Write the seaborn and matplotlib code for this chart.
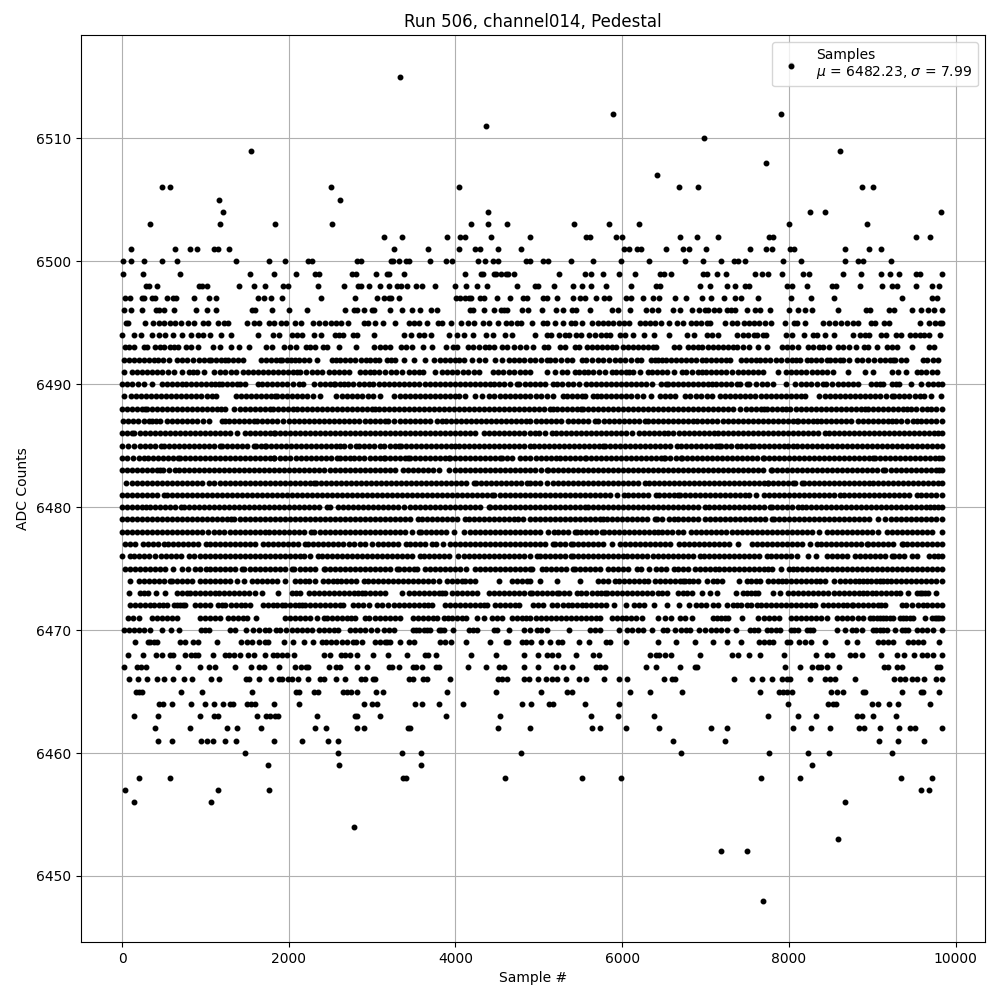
import matplotlib
matplotlib.use("Agg")
import pandas as pd
import seaborn as sns
from matplotlib import pyplot as plt

# sample numbers, one list per ADC level
s6516 = [8028]
s6515 = [3332]
s6512 = [5892, 7908]
s6511 = [4364]
s6510 = [6984]
s6509 = [1544, 8616]
s6508 = [7728]
s6507 = [6420]
s6506 = [476, 572, 2504, 4040, 6684, 6912, 8880, 9012]
s6505 = [1160, 2612]
s6504 = [1208, 4388, 8256, 8436, 9828]
s6503 = [332, 1172, 1832, 2516, 4184, 4388, 4616, 5424, 5844, 6204, 8004, 8940]
s6502 = [3140, 3356, 3896, 4052, 4112, 4424, 4892, 5568, 5616, 5928, 6000, 6696, 6900, 7152, 7764, 7812, 9528, 9696]
s6501 = [104, 632, 812, 896, 1100, 1148, 1280, 3260, 3668, 4040, 4232, 4292, 4508, 4784, 6024, 6084, 6180, 6228, 6528, 6732, 6804, 7008, 7536, 7728, 7800, 8016, 8064, 8676, 8964, 9108]
s6500 = [8, 104, 260, 476, 656, 1364, 1760, 1952, 2228, 2276, 2816, 2864, 3224, 3248, 3320, 3404, 3440, 3692, 3884, 3956, 4268, 4352, 4448, 4508, 4844, 4892, 5052, 5112, 5388, 5652, 5988, 6324, 6756, 6972, 7188, 7344, 7392, 7476, 7932, 8148, 8676, 8832, 8892, 9228]
s6499 = [8, 248, 692, 1532, 1820, 2084, 2312, 2360, 2756, 2804, 3044, 3176, 3200, 3380, 4112, 4304, 4328, 4460, 4484, 4544, 4604, 4628, 4700, 5244, 5556, 5628, 5772, 5964, 6156, 6456, 6504, 6588, 6972, 7020, 7140, 7248, 7596, 7680, 7752, 7920, 8172, 8244, 8652, 8868, 9108, 9216, 9324, 9528, 9576, 9840]
s6498 = [284, 320, 416, 920, 956, 1016, 1400, 1580, 1712, 1928, 1988, 2348, 2660, 2828, 2864, 2960, 3092, 3200, 3296, 3344, 3416, 3524, 3596, 3752, 3992, 4124, 4256, 4376, 4736, 4952, 4992, 5184, 5412, 5520, 5628, 5808, 6108, 6408, 6456, 6936, 7056, 7260, 7356, 7476, 7524, 7980, 8040, 8220, 8520, 8568, 8856, 9120, 9240, 9300, 9528, 9720, 9804]
s6497 = [32, 92, 236, 260, 356, 392, 536, 608, 644, 860, 1040, 1124, 1628, 1700, 1784, 1916, 2384, 2792, 3056, 3140, 3200, 3224, 3320, 4004, 4052, 4112, 4160, 4184, 4292, 4340, 4496, 4652, 4808, 4856, 5052, 5100, 5220, 5412, 5496, 5556, 5688, 5784, 5844, 6048, 6108, 6252, 6372, 6444, 6636, 6768, 6960, 7068, 7224, 7356, 7428, 7632, 8028, 8268, 8544, 9360, 9720, 9780]
s6496 = [20, 104, 236, 404, 440, 500, 620, 884, 1016, 1124, 1556, 1592, 1796, 2000, 2216, 2672, 2780, 2816, 2900, 2996, 3020, 3212, 3360, 3476, 3572, 3704, 3776, 4172, 4208, 4340, 4460, 4544, 4580, 4616, 4796, 4868, 5036, 5208, 5292, 5400, 5448, 5616, 5880, 5952, 6096, 6288, 6360, 6432, 6612, 6696, 6840, 6924, 6996, 7032, 7104, 7164, 7260, 7308, 7356, 7500, 7596, 7656, 7776, 8004, 8112, 8196, 8280, 8592, 8928, 8976, 9204, 9264, 9480, 9588, 9672, 9744, 9840]
s6495 = [44, 68, 272, 368, 440, 500, 572, 632, 704, 788, 860, 968, 1028, 1148, 1220, 1268, 1496, 1580, 1640, 1760, 1820, 1904, 1964, 2072, 2144, 2288, 2360, 2432, 2504, 2564, 2624, 2708, 2900, 2948, 3032, 3128, 3272, 3440, 3500, 3560, 3656, 3788, 3836, 3944, 4064, 4148, 4220, 4328, 4400, 4508, 4604, 4664, 4736, 4784, 4920, 5052, 5100, 5196, 5292, 5388, 5436, 5520, 5640, 5712, 5772, 5832, 5892, 5964, 6024, 6084, 6216, 6276, 6336, 6396, 6468, 6564, 6660, 6732, 6828, 6888, 6948, 7020, 7056, 7236, 7320, 7380, 7464, 7524, 7584, 7644, 7716, 7788, 7956, 8064, 8100, 8196, 8412, 8484, 8556, 8628, 8700, 8772, 8832, 8988, 9036, 9144, 9204, 9576, 9684, 9748, 9816, 9840]
s6494 = [0, 140, 224, 356, 440, 512, 608, 716, 824, 908, 968, 1052, 1184, 1304, 1628, 1808, 1880, 2036, 2096, 2156, 2300, 2384, 2552, 2600, 2648, 2768, 2816, 3020, 3380, 3464, 3560, 3620, 3704, 3920, 4016, 4100, 4208, 4364, 4448, 4592, 4676, 4956, 5100, 5148, 5244, 5316, 5364, 5448, 5508, 5604, 5676, 5748, 5800, 5856, 5976, 6036, 6132, 6256, 6380, 6564, 6780, 6864, 7020, 7080, 7152, 7380, 7452, 7512, 7584, 7620, 7692, 7728, 7968, 8040, 8184, 8292, 8340, 8436, 8544, 8772, 8856, 8916, 8964, 9108, 9168, 9288, 9348, 9456, 9516, 9576, 9624, 9684, 9816]
s6493 = [32, 80, 140, 260, 296, 392, 450, 500, 572, 620, 668, 764, 830, 908, 1088, 1172, 1304, 1400, 1520, 1724, 1796, 1940, 2012, 2084, 2204, 2260, 2312, 2408, 2456, 2600, 2804, 3020, 3090, 3150, 3212, 3344, 3404, 3476, 3608, 3716, 3884, 3968, 4016, 4148, 4210, 4280, 4350, 4400, 4460, 4556, 4620, 4700, 4770, 4844, 4932, 5064, 5112, 5256, 5316, 5436, 5484, 5580, 5640, 5700, 5760, 5820, 5880, 5928, 6012, 6072, 6132, 6192, 6252, 6312, 6372, 6408, 6624, 6684, 6792, 6852, 6912, 6960, 7032, 7092, 7152, 7212, 7272, 7332, 7380, 7452, 7524, 7632, 7740, 7920, 7980, 8040, 8112, 8232, 8292, 8364, 8412, 8484, 8592, 8652, 8724, 8808, 8904, 8952, 9060, 9180, 9240, 9300, 9480, 9684, 9744]
s6492 = [20, 80, 140, 200, 260, 320, 380, 428, 490, 560, 660, 720, 780, 850, 920, 980, 1040, 1072, 1130, 1190, 1240, 1268, 1330, 1390, 1452, 1668, 1730, 1790, 1850, 1900, 1920, 1980, 2030, 2080, 2120, 2180, 2240, 2340, 2520, 2570, 2620, 2680, 2740, 2800, 2870, 2932, 2980, 3030, 3080, 3180, 3230, 3280, 3380, 3508, 3640, 3748, 3810, 3870, 3930, 3990, 4040, 4100, 4200, 4280, 4360, 4480, 4560, 4640, 4700, 4760, 4820, 4900, 4950, 5020, 5092, 5130, 5190, 5260, 5340, 5400, 5512, 5570, 5632, 5712, 5770, 5840, 5910, 5972, 6032, 6100, 6172, 6228, 6340, 6390, 6432, 6472, 6530, 6590, 6644, 6700, 6760, 6830, 6890, 6952, 7000, 7060, 7120, 7180, 7240, 7292, 7420, 7480, 7540, 7600, 7652, 7710, 7770, 7840, 7910, 7972, 8032, 8080, 8132, 8212, 8270, 8330, 8390, 8452, 8492, 8550, 8612, 8652, 8724, 8820, 8880, 8950, 9020, 9092, 9152, 9210, 9252, 9272, 9340, 9404, 9604, 9660, 9730, 9792]
s6491 = [28, 120, 180, 240, 300, 360, 420, 480, 548, 620, 716, 800, 850, 900, 980, 1108, 1170, 1240, 1310, 1372, 1452, 1510, 1570, 1630, 1690, 1750, 1810, 1870, 1930, 1990, 2050, 2100, 2140, 2210, 2280, 2340, 2400, 2480, 2540, 2600, 2660, 2720, 2860, 2920, 2980, 3020, 3080, 3150, 3228, 3292, 3360, 3440, 3500, 3560, 3612, 3752, 3840, 3900, 3960, 4020, 4090, 4150, 4220, 4280, 4452, 4510, 4570, 4640, 4700, 4770, 4840, 4900, 5092, 5192, 5272, 5340, 5432, 5480, 5540, 5592, 5652, 5720, 5792, 5872, 5930, 5990, 6040, 6084, 6132, 6212, 6312, 6360, 6420, 6480, 6540, 6620, 6712, 6770, 6840, 6912, 6952, 7010, 7070, 7130, 7190, 7250, 7320, 7390, 7452, 7512, 7570, 7630, 7692, 7864, 7964, 8020, 8080, 8150, 8210, 8280, 8340, 8400, 8460, 8524, 8712, 8912, 9012, 9232, 9312, 9400, 9532, 9590, 9650, 9720, 9780]
s6490 = [0, 60, 120, 190, 260, 356, 480, 540, 600, 660, 720, 772, 830, 890, 950, 1010, 1070, 1120, 1160, 1200, 1260, 1320, 1380, 1420, 1472, 1628, 1680, 1740, 1800, 1860, 1920, 1980, 2050, 2120, 2168, 2308, 2370, 2430, 2490, 2540, 2560, 2610, 2660, 2708, 2770, 2840, 2900, 2960, 3012, 3080, 3140, 3200, 3260, 3320, 3380, 3440, 3500, 3560, 3640, 3700, 3760, 3820, 3880, 3940, 4000, 4060, 4120, 4180, 4240, 4300, 4360, 4420, 4460, 4520, 4580, 4650, 4740, 4760, 4830, 4900, 4950, 5010, 5070, 5164, 5220, 5280, 5350, 5412, 5484, 5564, 5620, 5680, 5740, 5800, 5860, 5920, 5980, 6040, 6100, 6160, 6220, 6290, 6352, 6460, 6524, 6552, 6610, 6670, 6730, 6790, 6850, 6910, 6970, 7032, 7072, 7130, 7190, 7250, 7310, 7372, 7412, 7492, 7524, 7600, 7672, 7740, 7812, 7960, 8068, 8140, 8200, 8270, 8340, 8404, 8444, 8512, 8592, 8650, 8710, 8764, 8832, 8980, 9040, 9092, 9132, 9232, 9280, 9324, 9464, 9580, 9672, 9730, 9790, 9840]
s6489 = [28, 108, 170, 230, 290, 350, 410, 470, 530, 590, 650, 710, 770, 830, 890, 950, 1020, 1080, 1132, 1372, 1430, 1490, 1550, 1610, 1670, 1730, 1790, 1840, 1860, 1920, 1980, 2040, 2100, 2160, 2220, 2290, 2380, 2572, 2640, 2700, 2760, 2820, 2880, 2950, 3012, 3092, 3268, 3330, 3390, 3450, 3510, 3570, 3630, 3690, 3750, 3810, 3870, 3930, 3990, 4040, 4120, 4240, 4320, 4400, 4468, 4530, 4590, 4650, 4710, 4770, 4840, 4900, 4960, 5030, 5100, 5172, 5284, 5340, 5400, 5460, 5512, 5552, 5652, 5692, 5750, 5810, 5870, 5930, 5990, 6050, 6110, 6180, 6252, 6340, 6452, 6510, 6570, 6632, 6752, 6810, 6880, 6950, 7012, 7072, 7172, 7230, 7290, 7350, 7410, 7470, 7530, 7592, 7660, 7720, 7780, 7844, 7900, 7960, 8020, 8080, 8140, 8192, 8360, 8432, 8490, 8550, 8610, 8670, 8730, 8790, 8852, 8912, 8970, 9030, 9090, 9160, 9232, 9260, 9320, 9380, 9440, 9510, 9572, 9620, 9704, 9820]
s6488 = [0, 60, 120, 180, 240, 280, 300, 360, 420, 480, 540, 600, 660, 720, 780, 840, 900, 960, 1020, 1080, 1140, 1190, 1240, 1348, 1410, 1470, 1530, 1590, 1650, 1710, 1780, 1812, 1870, 1930, 1990, 2050, 2100, 2160, 2220, 2280, 2340, 2400, 2460, 2520, 2580, 2640, 2700, 2760, 2820, 2880, 2940, 3000, 3040, 3080, 3140, 3200, 3260, 3320, 3380, 3440, 3500, 3560, 3620, 3680, 3740, 3800, 3860, 3920, 3980, 4040, 4100, 4160, 4220, 4280, 4340, 4400, 4460, 4520, 4580, 4640, 4700, 4760, 4820, 4880, 4940, 5000, 5060, 5132, 5164, 5220, 5280, 5340, 5400, 5460, 5504, 5524, 5590, 5650, 5710, 5770, 5830, 5890, 5950, 6010, 6070, 6130, 6190, 6250, 6310, 6370, 6430, 6490, 6550, 6610, 6670, 6730, 6790, 6850, 6910, 6970, 7030, 7090, 7150, 7210, 7270, 7332, 7412, 7480, 7540, 7600, 7660, 7700, 7732, 7800, 7860, 7920, 7970, 8012, 8080, 8140, 8200, 8260, 8320, 8380, 8440, 8500, 8560, 8620, 8680, 8740, 8800, 8860, 8910, 8952, 9012, 9070, 9130, 9190, 9250, 9310, 9372, 9412, 9470, 9530, 9592, 9652, 9710, 9770, 9840]
s6487 = [12, 70, 130, 190, 260, 320, 360, 410, 452, 540, 600, 660, 720, 780, 840, 900, 972, 1040, 1200, 1240, 1280, 1340, 1400, 1460, 1520, 1580, 1620, 1680, 1740, 1800, 1860, 1930, 2000, 2060, 2120, 2180, 2240, 2300, 2360, 2420, 2480, 2540, 2600, 2660, 2720, 2780, 2840, 2912, 2970, 3030, 3090, 3150, 3192, 3268, 3330, 3390, 3450, 3510, 3570, 3630, 3690, 3780, 3840, 3892, 3950, 4010, 4070, 4130, 4190, 4250, 4310, 4370, 4430, 4490, 4550, 4610, 4670, 4730, 4790, 4850, 4900, 4960, 5020, 5080, 5140, 5200, 5260, 5352, 5410, 5470, 5530, 5590, 5672, 5712, 5780, 5840, 5900, 5960, 6020, 6080, 6140, 6200, 6272, 6312, 6370, 6430, 6490, 6550, 6610, 6670, 6730, 6790, 6850, 6892, 6952, 7020, 7080, 7132, 7212, 7270, 7330, 7390, 7450, 7510, 7570, 7630, 7690, 7750, 7810, 7870, 7930, 7990, 8050, 8092, 8112, 8170, 8230, 8290, 8332, 8380, 8440, 8500, 8560, 8620, 8680, 8740, 8832, 8892, 8950, 9010, 9070, 9130, 9192, 9232, 9290, 9350, 9420, 9492, 9532, 9590, 9650, 9710, 9770, 9840]
s6486 = [0, 60, 120, 148, 210, 270, 330, 390, 450, 510, 570, 630, 690, 750, 810, 870, 930, 990, 1050, 1110, 1170, 1230, 1290, 1380, 1480, 1540, 1600, 1660, 1720, 1780, 1820, 1840, 1900, 1960, 2020, 2080, 2140, 2200, 2260, 2320, 2380, 2440, 2500, 2560, 2620, 2680, 2740, 2800, 2860, 2920, 2980, 3040, 3100, 3160, 3220, 3280, 3340, 3400, 3460, 3520, 3580, 3640, 3700, 3760, 3820, 3880, 3940, 4000, 4060, 4120, 4180, 4240, 4340, 4400, 4460, 4520, 4580, 4640, 4700, 4760, 4820, 4900, 4952, 5000, 5072, 5152, 5204, 5260, 5320, 5380, 5440, 5500, 5560, 5620, 5680, 5740, 5800, 5860, 5920, 5980, 6040, 6112, 6204, 6260, 6320, 6380, 6440, 6500, 6552, 6612, 6680, 6740, 6804, 6860, 6920, 6980, 7040, 7100, 7150, 7204, 7272, 7330, 7390, 7450, 7510, 7570, 7630, 7690, 7750, 7810, 7870, 7930, 7990, 8050, 8110, 8170, 8230, 8290, 8350, 8432, 8480, 8540, 8600, 8660, 8720, 8780, 8840, 8900, 8960, 9020, 9080, 9140, 9200, 9260, 9320, 9380, 9440, 9500, 9560, 9620, 9680, 9740, 9790, 9840]
s6485 = [0, 70, 148, 220, 280, 340, 400, 468, 500, 560, 620, 680, 740, 800, 860, 920, 980, 1040, 1100, 1172, 1204, 1260, 1320, 1380, 1440, 1500, 1580, 1612, 1670, 1720, 1732, 1790, 1850, 1910, 1970, 2030, 2090, 2150, 2210, 2270, 2330, 2390, 2450, 2510, 2570, 2620, 2668, 2740, 2812, 2840, 2900, 2960, 3020, 3100, 3148, 3210, 3270, 3320, 3352, 3410, 3470, 3530, 3590, 3650, 3710, 3770, 3830, 3890, 3950, 4000, 4040, 4100, 4160, 4220, 4280, 4340, 4400, 4460, 4520, 4580, 4640, 4700, 4760, 4820, 4900, 4940, 5000, 5060, 5120, 5180, 5240, 5300, 5360, 5420, 5480, 5540, 5600, 5660, 5720, 5772, 5792, 5850, 5910, 5970, 6030, 6090, 6150, 6210, 6270, 6330, 6390, 6450, 6510, 6570, 6652, 6710, 6770, 6830, 6890, 6950, 7010, 7070, 7120, 7164, 7184, 7250, 7310, 7380, 7420, 7480, 7540, 7580, 7640, 7700, 7760, 7820, 7880, 7940, 7992, 8044, 8100, 8160, 8220, 8280, 8340, 8400, 8460, 8520, 8580, 8640, 8700, 8760, 8820, 8880, 8940, 9000, 9060, 9120, 9180, 9240, 9300, 9360, 9420, 9480, 9540, 9600, 9660, 9720, 9780, 9840]
s6484 = [0, 60, 130, 200, 260, 308, 370, 430, 490, 550, 610, 672, 700, 760, 820, 880, 940, 1000, 1060, 1120, 1180, 1240, 1300, 1360, 1420, 1480, 1540, 1600, 1660, 1720, 1780, 1820, 1828, 1890, 1950, 2010, 2092, 2152, 2210, 2270, 2330, 2390, 2450, 2510, 2580, 2612, 2670, 2730, 2788, 2848, 2908, 2970, 3030, 3090, 3148, 3160, 3220, 3280, 3340, 3400, 3432, 3452, 3510, 3570, 3630, 3690, 3750, 3810, 3870, 3920, 3940, 4000, 4060, 4120, 4180, 4240, 4300, 4360, 4420, 4480, 4532, 4560, 4620, 4680, 4780, 4840, 4900, 4960, 5020, 5080, 5140, 5204, 5252, 5310, 5370, 5430, 5490, 5552, 5564, 5620, 5680, 5740, 5800, 5860, 5920, 5980, 6040, 6100, 6160, 6220, 6280, 6340, 6400, 6460, 6504, 6512, 6570, 6640, 6700, 6716, 6780, 6840, 6900, 6960, 7020, 7080, 7140, 7200, 7260, 7320, 7380, 7440, 7500, 7560, 7620, 7692, 7700, 7760, 7820, 7880, 7940, 8000, 8060, 8120, 8180, 8240, 8300, 8360, 8420, 8480, 8540, 8600, 8660, 8720, 8780, 8840, 8900, 8960, 9004, 9032, 9090, 9150, 9210, 9270, 9330, 9390, 9450, 9510, 9570, 9630, 9690, 9750, 9800, 9840]
s6483 = [0, 60, 120, 180, 240, 300, 360, 420, 460, 492, 560, 640, 680, 740, 800, 860, 920, 980, 1040, 1100, 1160, 1220, 1280, 1340, 1400, 1460, 1520, 1580, 1640, 1700, 1760, 1820, 1880, 1940, 2000, 2060, 2120, 2180, 2240, 2300, 2360, 2420, 2500, 2560, 2620, 2680, 2740, 2800, 2860, 2920, 2980, 3040, 3100, 3160, 3220, 3280, 3372, 3430, 3490, 3550, 3610, 3670, 3730, 3800, 3928, 3990, 4050, 4110, 4170, 4230, 4290, 4350, 4410, 4470, 4530, 4590, 4650, 4710, 4770, 4830, 4900, 4950, 5020, 5092, 5112, 5170, 5230, 5290, 5350, 5410, 5470, 5530, 5590, 5650, 5710, 5770, 5830, 5890, 5950, 6010, 6070, 6130, 6190, 6250, 6310, 6370, 6430, 6490, 6550, 6610, 6670, 6730, 6790, 6850, 6910, 6970, 7030, 7090, 7150, 7210, 7270, 7330, 7390, 7450, 7510, 7570, 7630, 7690, 7780, 7800, 7860, 7920, 7980, 8040, 8100, 8160, 8220, 8280, 8340, 8400, 8460, 8520, 8580, 8640, 8700, 8760, 8820, 8880, 8940, 9000, 9060, 9124, 9156, 9220, 9280, 9340, 9400, 9460, 9520, 9580, 9640, 9700, 9760, 9800, 9840]
s6482 = [52, 120, 180, 240, 300, 360, 420, 480, 540, 600, 660, 720, 780, 840, 900, 960, 1040, 1108, 1170, 1230, 1290, 1350, 1410, 1470, 1530, 1590, 1650, 1710, 1770, 1830, 1890, 1950, 2010, 2070, 2130, 2190, 2250, 2300, 2328, 2390, 2450, 2510, 2570, 2630, 2690, 2750, 2810, 2870, 2930, 2990, 3050, 3110, 3170, 3230, 3290, 3350, 3410, 3470, 3530, 3590, 3650, 3710, 3770, 3830, 3890, 3950, 4010, 4070, 4130, 4220, 4252, 4310, 4370, 4430, 4490, 4550, 4610, 4670, 4730, 4790, 4860, 4892, 4950, 5012, 5092, 5172, 5230, 5290, 5350, 5410, 5470, 5530, 5590, 5650, 5710, 5770, 5830, 5890, 5950, 6010, 6070, 6130, 6190, 6272, 6324, 6380, 6440, 6500, 6560, 6620, 6680, 6740, 6800, 6860, 6920, 6980, 7040, 7100, 7160, 7220, 7280, 7340, 7400, 7460, 7520, 7580, 7640, 7700, 7744, 7752, 7810, 7870, 7930, 7990, 8052, 8072, 8152, 8180, 8240, 8300, 8360, 8420, 8480, 8540, 8600, 8660, 8720, 8780, 8840, 8900, 8960, 9012, 9072, 9130, 9190, 9250, 9310, 9370, 9430, 9490, 9550, 9610, 9670, 9730, 9790, 9840]
s6481 = [0, 60, 120, 180, 240, 300, 360, 420, 508, 540, 600, 660, 720, 780, 840, 900, 960, 1020, 1080, 1140, 1200, 1260, 1320, 1380, 1440, 1500, 1560, 1620, 1680, 1740, 1800, 1860, 1920, 1980, 2040, 2100, 2160, 2220, 2280, 2340, 2400, 2460, 2520, 2580, 2640, 2700, 2760, 2820, 2880, 2940, 3000, 3060, 3120, 3180, 3240, 3300, 3360, 3420, 3480, 3540, 3600, 3660, 3720, 3780, 3840, 3900, 3960, 4020, 4080, 4140, 4200, 4260, 4320, 4380, 4440, 4468, 4530, 4590, 4650, 4710, 4770, 4830, 4900, 4950, 5010, 5070, 5130, 5190, 5250, 5310, 5370, 5430, 5490, 5550, 5610, 5670, 5730, 5790, 5850, 5932, 6016, 6072, 6130, 6190, 6250, 6310, 6404, 6444, 6500, 6560, 6620, 6672, 6692, 6750, 6810, 6870, 6930, 6990, 7050, 7110, 7170, 7230, 7290, 7350, 7410, 7470, 7520, 7600, 7700, 7760, 7820, 7880, 7940, 8000, 8060, 8120, 8180, 8240, 8300, 8360, 8420, 8480, 8540, 8612, 8660, 8720, 8780, 8840, 8900, 8960, 9020, 9080, 9140, 9200, 9260, 9320, 9380, 9440, 9532, 9580, 9640, 9700, 9760, 9840]
s6480 = [0, 60, 120, 180, 240, 292, 332, 390, 450, 510, 570, 630, 712, 740, 800, 860, 920, 980, 1040, 1100, 1160, 1220, 1280, 1340, 1400, 1460, 1520, 1580, 1640, 1700, 1760, 1820, 1880, 1940, 2000, 2060, 2120, 2180, 2240, 2300, 2360, 2460, 2500, 2588, 2650, 2710, 2770, 2830, 2890, 2950, 3010, 3070, 3130, 3190, 3250, 3308, 3388, 3450, 3510, 3570, 3630, 3690, 3750, 3810, 3870, 3930, 3990, 4050, 4110, 4170, 4230, 4290, 4400, 4420, 4480, 4540, 4600, 4660, 4720, 4780, 4840, 4900, 4950, 5010, 5070, 5130, 5190, 5250, 5310, 5370, 5430, 5490, 5552, 5592, 5650, 5710, 5770, 5830, 5890, 5950, 6010, 6070, 6130, 6190, 6250, 6310, 6370, 6430, 6490, 6550, 6610, 6670, 6730, 6790, 6850, 6910, 6992, 7040, 7100, 7160, 7220, 7280, 7340, 7400, 7460, 7520, 7580, 7640, 7700, 7772, 7800, 7860, 7920, 7980, 8040, 8104, 8152, 8210, 8270, 8330, 8390, 8450, 8510, 8570, 8630, 8690, 8750, 8810, 8870, 8930, 8990, 9050, 9110, 9170, 9230, 9290, 9350, 9410, 9470, 9530, 9590, 9640, 9692, 9740, 9790, 9840]
s6479 = [0, 60, 120, 180, 240, 300, 360, 420, 480, 540, 600, 660, 720, 780, 840, 900, 960, 1020, 1080, 1140, 1200, 1260, 1308, 1348, 1410, 1470, 1530, 1590, 1650, 1710, 1770, 1830, 1890, 1950, 2010, 2070, 2130, 2190, 2250, 2310, 2370, 2430, 2490, 2550, 2610, 2670, 2730, 2790, 2850, 2910, 2970, 3030, 3090, 3150, 3210, 3270, 3330, 3390, 3460, 3548, 3600, 3660, 3720, 3780, 3840, 3900, 3960, 4020, 4120, 4160, 4220, 4280, 4340, 4400, 4460, 4520, 4580, 4640, 4700, 4748, 4810, 4900, 4950, 5010, 5070, 5130, 5190, 5250, 5310, 5370, 5430, 5490, 5550, 5610, 5670, 5732, 5764, 5820, 5880, 5940, 6000, 6060, 6120, 6180, 6240, 6300, 6392, 6420, 6480, 6560, 6620, 6672, 6730, 6790, 6850, 6910, 6992, 7052, 7110, 7170, 7232, 7292, 7350, 7410, 7470, 7530, 7590, 7650, 7710, 7792, 7824, 7880, 7940, 8000, 8060, 8120, 8180, 8240, 8300, 8360, 8420, 8480, 8540, 8600, 8660, 8720, 8780, 8840, 8900, 8960, 9072, 9156, 9224, 9280, 9340, 9400, 9460, 9520, 9580, 9640, 9700, 9760, 9840]
s6478 = [0, 60, 120, 180, 240, 300, 360, 420, 480, 540, 600, 660, 720, 780, 840, 900, 960, 1028, 1100, 1160, 1220, 1292, 1350, 1410, 1470, 1530, 1590, 1650, 1710, 1768, 1820, 1880, 1940, 2000, 2060, 2120, 2180, 2272, 2308, 2370, 2430, 2490, 2550, 2610, 2670, 2730, 2790, 2850, 2910, 2970, 3030, 3090, 3150, 3210, 3270, 3330, 3390, 3480, 3560, 3588, 3650, 3710, 3770, 3830, 3890, 3980, 4108, 4170, 4230, 4290, 4350, 4410, 4470, 4530, 4590, 4650, 4710, 4770, 4830, 4900, 4950, 5010, 5112, 5180, 5232, 5290, 5350, 5432, 5452, 5510, 5570, 5630, 5690, 5752, 5780, 5840, 5900, 5960, 6020, 6080, 6140, 6200, 6260, 6320, 6380, 6432, 6480, 6540, 6600, 6672, 6732, 6824, 6880, 6940, 7000, 7060, 7120, 7180, 7240, 7312, 7380, 7440, 7500, 7560, 7620, 7680, 7740, 7800, 7860, 7920, 7980, 8040, 8100, 8160, 8220, 8280, 8364, 8460, 8520, 8580, 8640, 8700, 8760, 8820, 8880, 8940, 9000, 9072, 9180, 9240, 9300, 9360, 9420, 9480, 9540, 9600, 9660, 9720, 9832]
s6477 = [40, 100, 160, 252, 308, 370, 430, 500, 548, 612, 670, 730, 790, 850, 910, 1012, 1052, 1110, 1170, 1230, 1290, 1350, 1410, 1470, 1530, 1590, 1692, 1748, 1810, 1870, 1930, 1990, 2050, 2110, 2200, 2228, 2290, 2350, 2410, 2470, 2530, 2590, 2650, 2720, 2784, 2852, 2920, 3000, 3072, 3130, 3190, 3250, 3310, 3412, 3460, 3520, 3580, 3640, 3720, 3772, 3848, 3932, 3990, 4050, 4110, 4170, 4230, 4290, 4350, 4410, 4470, 4530, 4590, 4650, 4710, 4770, 4830, 4900, 4950, 5010, 5070, 5164, 5192, 5250, 5310, 5380, 5412, 5470, 5530, 5590, 5650, 5710, 5770, 5872, 5972, 6030, 6090, 6150, 6210, 6270, 6330, 6390, 6450, 6510, 6572, 6684, 6740, 6800, 6860, 6920, 6980, 7040, 7100, 7160, 7220, 7280, 7392, 7560, 7620, 7680, 7740, 7800, 7860, 7920, 7980, 8040, 8100, 8160, 8252, 8332, 8390, 8450, 8510, 8570, 8630, 8690, 8750, 8810, 8870, 8932, 8952, 9010, 9070, 9130, 9190, 9250, 9352, 9364, 9420, 9480, 9540, 9600, 9660, 9720, 9780, 9840]
s6476 = [0, 100, 140, 200, 260, 320, 392, 468, 530, 590, 650, 710, 800, 868, 930, 990, 1050, 1110, 1170, 1230, 1290, 1350, 1410, 1470, 1530, 1590, 1650, 1710, 1770, 1830, 1890, 1950, 2010, 2070, 2132, 2180, 2250, 2348, 2400, 2460, 2520, 2580, 2640, 2700, 2760, 2820, 2880, 2940, 3000, 3060, 3120, 3180, 3240, 3300, 3360, 3420, 3480, 3580, 3620, 3680, 3740, 3800, 3860, 3920, 4032, 4100, 4160, 4220, 4280, 4340, 4400, 4460, 4520, 4580, 4640, 4700, 4760, 4820, 4900, 4972, 5012, 5070, 5132, 5192, 5250, 5310, 5380, 5412, 5470, 5530, 5590, 5650, 5710, 5770, 5830, 5890, 5952, 6004, 6060, 6120, 6180, 6240, 6300, 6372, 6432, 6490, 6550, 6610, 6670, 6730, 6790, 6850, 6932, 6980, 7040, 7100, 7160, 7220, 7280, 7340, 7400, 7460, 7520, 7580, 7640, 7740, 7784, 7840, 7900, 7960, 8020, 8092, 8232, 8324, 8460, 8520, 8580, 8640, 8700, 8792, 8852, 8910, 8970, 9030, 9090, 9150, 9232, 9260, 9320, 9380, 9472, 9532, 9684, 9740, 9790, 9840]
s6475 = [40, 100, 160, 220, 280, 340, 400, 460, 520, 612, 720, 792, 880, 940, 1012, 1060, 1120, 1180, 1240, 1300, 1360, 1440, 1468, 1530, 1590, 1650, 1710, 1770, 1830, 1890, 1950, 2040, 2068, 2130, 2190, 2250, 2310, 2420, 2440, 2500, 2560, 2620, 2680, 2740, 2800, 2860, 2920, 2980, 3040, 3100, 3160, 3220, 3300, 3320, 3380, 3440, 3500, 3540, 3640, 3692, 3750, 3810, 3870, 3930, 3990, 4050, 4132, 4240, 4300, 4360, 4420, 4480, 4540, 4600, 4660, 4720, 4780, 4840, 4900, 4920, 5032, 5090, 5150, 5210, 5270, 5330, 5412, 5432, 5490, 5550, 5610, 5672, 5732, 5832, 5892, 5950, 6010, 6070, 6172, 6224, 6324, 6404, 6460, 6520, 6620, 6672, 6730, 6790, 6872, 6932, 6990, 7050, 7112, 7164, 7220, 7280, 7340, 7400, 7460, 7520, 7580, 7640, 7700, 7752, 7800, 7900, 8004, 8044, 8100, 8160, 8220, 8280, 8340, 8400, 8460, 8520, 8580, 8640, 8700, 8760, 8820, 8880, 8940, 9000, 9060, 9120, 9180, 9240, 9300, 9360, 9420, 9480, 9540, 9600, 9660, 9720, 9780, 9840]
s6474 = [92, 200, 260, 320, 380, 440, 500, 580, 604, 660, 720, 780, 840, 940, 1000, 1060, 1120, 1180, 1240, 1300, 1380, 1460, 1560, 1620, 1680, 1740, 1800, 1860, 1960, 2080, 2140, 2190, 2248, 2320, 2412, 2470, 2530, 2580, 2628, 2690, 2750, 2810, 2900, 2948, 3010, 3070, 3130, 3190, 3250, 3310, 3370, 3430, 3490, 3550, 3610, 3670, 3730, 3800, 3900, 3960, 4020, 4080, 4120, 4170, 4240, 4520, 4680, 4740, 4800, 4860, 4900, 5012, 5220, 5492, 5712, 5770, 5830, 5912, 5964, 6020, 6080, 6140, 6200, 6260, 6312, 6392, 6450, 6510, 6570, 6630, 6690, 6732, 6752, 6800, 6852, 6912, 7012, 7092, 7140, 7192, 7404, 7492, 7550, 7600, 7652, 7752, 7810, 7872, 7912, 7970, 8030, 8090, 8150, 8210, 8270, 8320, 8372, 8428, 8544, 8612, 8670, 8730, 8790, 8840, 8892, 8932, 8990, 9050, 9090, 9132, 9180, 9220, 9280, 9340, 9400, 9460, 9520, 9580, 9640, 9700, 9760, 9840]
s6473 = [80, 220, 260, 308, 404, 512, 660, 720, 780, 820, 880, 940, 1000, 1060, 1120, 1160, 1220, 1280, 1340, 1400, 1460, 1520, 1600, 1680, 1872, 2040, 2090, 2140, 2240, 2300, 2360, 2420, 2480, 2540, 2600, 2660, 2720, 2780, 2830, 2880, 2920, 2980, 3040, 3100, 3160, 3360, 3440, 3500, 3560, 3620, 3680, 3740, 3800, 3840, 3880, 3960, 4020, 4080, 4140, 4200, 4260, 4400, 4460, 4520, 4580, 4640, 4700, 4760, 4820, 4900, 4920, 4980, 5040, 5100, 5160, 5212, 5244, 5300, 5364, 5452, 5510, 5570, 5632, 5692, 5740, 5792, 5820, 5880, 5940, 6000, 6060, 6120, 6180, 6240, 6300, 6360, 6424, 6472, 6532, 6672, 6730, 6780, 6832, 6952, 7052, 7132, 7364, 7452, 7500, 7540, 7590, 7632, 7812, 7892, 7992, 8050, 8110, 8170, 8230, 8290, 8350, 8410, 8472, 8540, 8600, 8660, 8720, 8780, 8840, 8890, 8932, 8992, 9050, 9110, 9170, 9230, 9280, 9332, 9432, 9532, 9570, 9600, 9630, 9672, 9764]
s6472 = [100, 160, 220, 280, 340, 388, 440, 490, 540, 628, 660, 700, 730, 760, 880, 940, 1000, 1060, 1148, 1200, 1240, 1308, 1370, 1430, 1480, 1540, 1692, 1750, 1810, 1860, 1920, 1960, 2020, 2080, 2120, 2160, 2200, 2260, 2320, 2380, 2440, 2500, 2560, 2610, 2652, 2772, 2830, 2890, 2960, 3060, 3120, 3188, 3260, 3320, 3380, 3440, 3500, 3560, 3620, 3670, 3720, 3880, 3940, 4000, 4060, 4120, 4180, 4240, 4300, 4340, 4380, 4480, 4540, 4600, 4660, 4710, 4760, 4932, 4990, 5044, 5152, 5220, 5284, 5352, 5400, 5452, 5512, 5570, 5630, 5690, 5750, 5804, 5904, 6040, 6140, 6200, 6260, 6384, 6532, 6684, 6800, 6884, 6950, 7010, 7092, 7152, 7252, 7330, 7380, 7420, 7492, 7550, 7612, 7660, 7720, 7780, 7840, 7900, 7960, 8020, 8080, 8140, 8200, 8260, 8312, 8412, 8470, 8530, 8590, 8650, 8700, 8752, 8772, 8830, 8890, 8950, 9010, 9070, 9110, 9152, 9352, 9410, 9472, 9552, 9604, 9660, 9720, 9780, 9840]
s6471 = [68, 130, 200, 360, 420, 480, 540, 600, 660, 940, 1000, 1060, 1120, 1180, 1268, 1330, 1390, 1450, 1500, 1604, 1960, 2020, 2080, 2140, 2200, 2260, 2340, 2420, 2460, 2520, 2580, 2640, 2700, 2750, 2800, 2920, 2960, 3040, 3100, 3160, 3220, 3280, 3340, 3492, 3550, 3610, 3670, 3730, 3780, 3860, 3910, 3960, 4020, 4080, 4132, 4260, 4348, 4440, 4500, 4560, 4680, 4740, 4800, 4850, 4900, 4960, 5020, 5080, 5140, 5200, 5260, 5320, 5380, 5440, 5500, 5560, 5620, 5680, 5732, 5872, 5940, 5992, 6050, 6110, 6164, 6232, 6432, 6512, 6588, 6692, 6756, 6832, 7092, 7140, 7180, 7230, 7272, 7432, 7632, 7704, 7760, 7820, 7884, 8020, 8080, 8140, 8200, 8260, 8320, 8380, 8452, 8572, 8640, 8700, 8760, 8832, 8892, 8970, 9012, 9052, 9092, 9130, 9170, 9210, 9252, 9332, 9370, 9410, 9450, 9492, 9632, 9712, 9750, 9780, 9800, 9840]
s6470 = [20, 80, 140, 200, 260, 340, 480, 584, 680, 948, 1000, 1048, 1300, 1360, 1484, 1572, 1640, 1720, 1760, 1848, 1892, 1972, 2040, 2100, 2160, 2220, 2280, 2360, 2420, 2480, 2540, 2592, 2740, 2800, 2860, 2920, 2990, 3060, 3140, 3200, 3260, 3492, 3530, 3560, 3620, 3660, 3700, 3800, 3830, 3860, 3968, 4160, 4210, 4260, 4460, 4500, 4640, 4820, 4900, 4972, 5030, 5092, 5360, 5612, 5670, 5732, 5964, 6052, 6120, 6190, 6252, 6360, 6484, 6532, 6636, 6700, 6760, 6812, 6924, 6990, 7060, 7130, 7190, 7252, 7368, 7532, 7580, 7632, 7740, 7780, 7840, 7892, 8020, 8060, 8112, 8212, 8250, 8284, 8580, 8676, 8752, 8810, 8872, 9012, 9050, 9090, 9130, 9172, 9276, 9352, 9390, 9424, 9532, 9600, 9660, 9724, 9838]
s6469 = [152, 308, 340, 380, 416, 700, 760, 848, 908, 1136, 1424, 1500, 1560, 1640, 1712, 1752, 1940, 2056, 2180, 2288, 2396, 2450, 2510, 2564, 2640, 2700, 2768, 2812, 2880, 3032, 3090, 3150, 3180, 3212, 3332, 3440, 3500, 3812, 3880, 3948, 4124, 4420, 4612, 4628, 4800, 4850, 4904, 5028, 5136, 5232, 5280, 5484, 5604, 5808, 5856, 6048, 6432, 6648, 6876, 7092, 7260, 7420, 7644, 7704, 7760, 7812, 7980, 8012, 8124, 8196, 8268, 8436, 8700, 8820, 9072, 9132, 9192, 9252, 9432, 9490, 9552, 9612, 9804]
s6468 = [68, 248, 404, 476, 572, 608, 752, 824, 870, 908, 1088, 1232, 1280, 1340, 1412, 1508, 1580, 1712, 1808, 1860, 1916, 1980, 2060, 2420, 2500, 2624, 2672, 2732, 2816, 3008, 3188, 3416, 3632, 3668, 3764, 4184, 4484, 4824, 4992, 5100, 5160, 5232, 5444, 5652, 5724, 6336, 6408, 6444, 6516, 6588, 6936, 7320, 7392, 7524, 7656, 7944, 8328, 8460, 8520, 8736, 8796, 8880, 9108, 9300, 9384, 9504, 9600, 9660, 9732, 9840]
s6467 = [20, 176, 224, 284, 668, 932, 1040, 1112, 1352, 1544, 1640, 1700, 1880, 2072, 2144, 2210, 2228, 2480, 2564, 2612, 2816, 2936, 3200, 3236, 3320, 3488, 3524, 3596, 3764, 3800, 4148, 4364, 4520, 4580, 4820, 4992, 5208, 5292, 5392, 5688, 5736, 5796, 6288, 6408, 6696, 6876, 6900, 7956, 8136, 8280, 8352, 8388, 8460, 8604, 9144, 9192, 9292, 9360, 9780, 9816]
s6466 = [80, 188, 296, 416, 500, 608, 740, 836, 1064, 1160, 1484, 1520, 1640, 1784, 1880, 1916, 1988, 2036, 2108, 2228, 2380, 2420, 2564, 2680, 2864, 2920, 3008, 3032, 3440, 3488, 3608, 3656, 3932, 4508, 4556, 4616, 4820, 4880, 4992, 5088, 5160, 5220, 5328, 5484, 5568, 5784, 5964, 6060, 6504, 6600, 6636, 7344, 7560, 7680, 7800, 7920, 7980, 8016, 8256, 8436, 8496, 8556, 8796, 9264, 9336, 9396, 9480, 9540, 9624, 9768, 9840]
s6465 = [164, 200, 236, 704, 956, 1556, 2084, 2120, 2300, 2348, 2648, 2696, 2744, 2816, 3044, 3128, 3896, 4484, 5028, 5340, 5400, 6096, 6336, 6720, 7656, 7884, 7932, 7980, 8040, 8508, 8580, 8652, 8892, 8916, 9360, 9588, 9612, 9804]
s6464 = [440, 488, 596, 824, 992, 1100, 1208, 1292, 1328, 1496, 1544, 1592, 1820, 2120, 2900, 2996, 3056, 3516, 3600, 3804, 4088, 4800, 4904, 5124, 5172, 5556, 5964, 7992, 8472, 8532, 8568, 9000, 9072, 9204, 9312, 9696]
s6463 = [140, 428, 932, 1100, 1148, 1616, 1724, 1772, 1832, 1868, 2336, 2792, 2816, 3092, 3884, 4532, 5628, 5952, 6384, 7752, 8112, 8328, 8820, 8880, 9012, 9288]
s6462 = [392, 812, 1256, 1376, 1664, 2312, 2444, 2816, 2900, 3428, 3452, 4508, 4900, 5640, 5736, 6040, 6444, 7068, 7260, 8052, 8268, 8496, 8844, 8904, 9096, 9324, 9456, 9516, 9840]
s6461 = [428, 596, 944, 1016, 1088, 1232, 1364, 1820, 2156, 2468, 2588, 6612, 7236, 9084, 9312, 9624]
s6460 = [1472, 2588, 3356, 3584, 4784, 6708, 7764, 8232, 8484, 9240]
s6459 = [1748, 2600, 3584, 8280]
s6458 = [200, 572, 3372, 3404, 4592, 5520, 5988, 7668, 8136, 9348, 9720]
s6457 = [32, 1148, 1760, 9588, 9684]
s6456 = [140, 1064, 8676]
s6454 = [2780]
s6453 = [8592]
s6452 = [7188, 7500]
s6448 = [7692]

levels = [6516, 6515, 6512, 6511, 6510, 6509, 6508, 6507, 6506, 6505, 6504, 6503, 6502, 6501, 6500,
          6499, 6498, 6497, 6496, 6495, 6494, 6493, 6492, 6491, 6490, 6489, 6488, 6487, 6486, 6485,
          6484, 6483, 6482, 6481, 6480, 6479, 6478, 6477, 6476, 6475, 6474, 6473, 6472, 6471, 6470,
          6469, 6468, 6467, 6466, 6465, 6464, 6463, 6462, 6461, 6460, 6459, 6458, 6457, 6456, 6454,
          6453, 6452, 6448]
samples = [s6516, s6515, s6512, s6511, s6510, s6509, s6508, s6507, s6506, s6505, s6504, s6503, s6502, s6501, s6500,
           s6499, s6498, s6497, s6496, s6495, s6494, s6493, s6492, s6491, s6490, s6489, s6488, s6487, s6486, s6485,
           s6484, s6483, s6482, s6481, s6480, s6479, s6478, s6477, s6476, s6475, s6474, s6473, s6472, s6471, s6470,
           s6469, s6468, s6467, s6466, s6465, s6464, s6463, s6462, s6461, s6460, s6459, s6458, s6457, s6456, s6454,
           s6453, s6452, s6448]

rows = [(x, lvl) for lvl, xs in zip(levels, samples) for x in xs]
df = pd.DataFrame(rows, columns=["sample", "adc"])

fig, ax = plt.subplots(figsize=(10, 10), dpi=100)
sns.scatterplot(data=df, x="sample", y="adc", color="k", marker=".", s=42, linewidth=1,
                edgecolor="k", ax=ax, label="Samples\n$\\mu$ = 6482.23, $\\sigma$ = 7.99")
ax.set_xlim(-493, 10353)
ax.set_ylim(6444.63, 6518.4)
ax.grid(True)
ax.set_axisbelow(True)
ax.set_title("Run 506, channel014, Pedestal")
ax.set_xlabel("Sample #")
ax.set_ylabel("ADC Counts")
ax.legend(loc="upper right")
fig.subplots_adjust(left=0.081, right=0.985, bottom=0.058, top=0.965)
fig.savefig("out.png", dpi=100)
